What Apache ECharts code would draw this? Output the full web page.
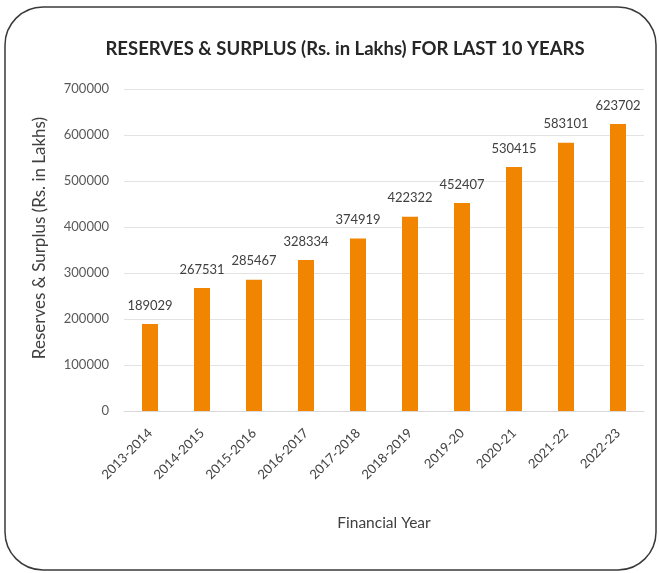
<!DOCTYPE html>
<html><head><meta charset="utf-8">
<script src="https://cdn.jsdelivr.net/npm/echarts@6/dist/echarts.min.js"></script>
<style>html,body{margin:0;padding:0;background:#fff}#c{width:659px;height:573px}</style>
</head><body><div id="c"></div>
<script>
const categories = ['2013-2014','2014-2015','2015-2016','2016-2017','2017-2018','2018-2019','2019-20','2020-21','2021-22','2022-23'];
const values = [189029,267531,285467,328334,374919,422322,452407,530415,583101,623702];
const titleText = 'RESERVES & SURPLUS (Rs. in Lakhs) FOR LAST 10 YEARS';
const yName = 'Reserves & Surplus (Rs. in Lakhs)';
const xName = 'Financial Year';
const FONT = 'Lato';
const chart = echarts.init(document.getElementById('c'));
chart.setOption({
  animation:false,
  textStyle:{fontFamily:FONT},
  title:{text:titleText,left:340,top:35,textAlign:'center',textStyle:{fontFamily:FONT,fontSize:18.5,fontWeight:'bold',color:'#262626'}},
  graphic:[{type:'rect',shape:{x:5,y:7,width:651,height:563,r:38},style:{fill:'none',stroke:'#3a3a3a',lineWidth:1.5},silent:true}],
  grid:{left:124,right:15,top:89,bottom:162},
  xAxis:{type:'category',data:categories,
    name:xName,nameLocation:'middle',nameGap:104,nameTextStyle:{fontFamily:FONT,fontSize:15.5,color:'#404040'},
    axisLine:{show:true,lineStyle:{color:'#d9d9d9'}},axisTick:{show:false},
    axisLabel:{rotate:45,interval:0,fontFamily:FONT,fontSize:13,color:'#404040',margin:20}},
  yAxis:{type:'value',min:0,max:700000,interval:100000,
    name:yName,nameLocation:'middle',nameGap:76,nameTextStyle:{fontFamily:FONT,fontSize:17,color:'#404040',padding:[0,0,0,24]},
    axisLine:{show:false},axisTick:{show:false},
    splitLine:{lineStyle:{color:'#e3e3e3'}},
    axisLabel:{fontFamily:FONT,fontSize:13,color:'#595959',margin:15,formatter:function(v){return String(v);}}},
  series:[{type:'bar',data:values,barWidth:16,itemStyle:{color:'#f28500'},
    label:{show:true,position:'top',distance:12,fontFamily:FONT,fontSize:13,color:'#404040'}}]
});
</script></body></html>
